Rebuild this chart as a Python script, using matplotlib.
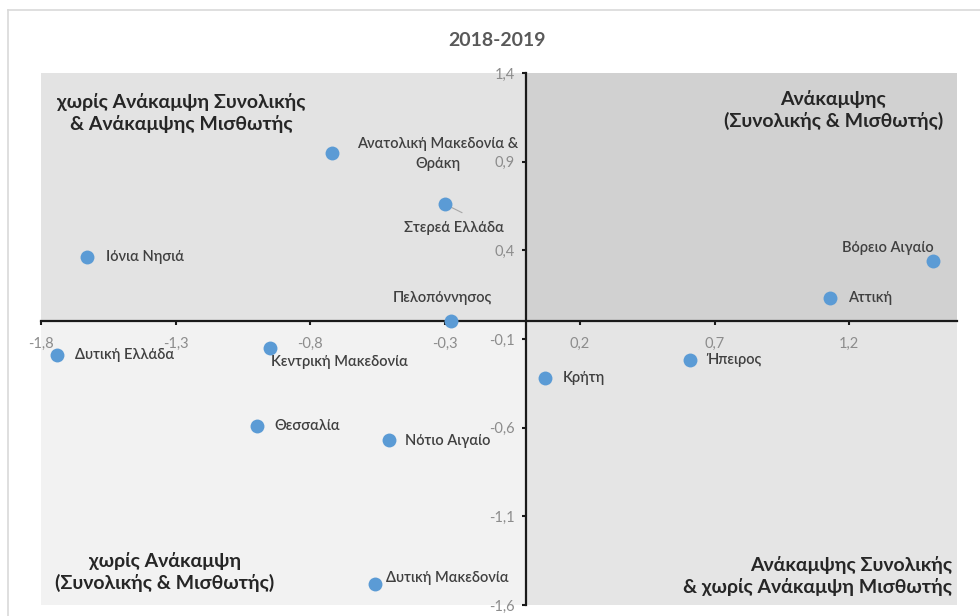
import matplotlib
matplotlib.use("Agg")
import matplotlib.pyplot as plt
from matplotlib.lines import Line2D
from matplotlib.ticker import FuncFormatter

plt.rcParams['font.family'] = ['Lato', 'Open Sans', 'DejaVu Sans']

# data
regions = ["Ανατολική Μακεδονία &\nΘράκη", "Στερεά Ελλάδα", "Ιόνια Νησιά", "Πελοπόννησος",
           "Βόρειο Αιγαίο", "Αττική", "Δυτική Ελλάδα", "Κεντρική Μακεδονία",
           "Κρήτη", "Ήπειρος", "Θεσσαλία", "Νότιο Αιγαίο", "Δυτική Μακεδονία"]
x_total = [-0.72, -0.30, -1.63, -0.28, 1.51, 1.13, -1.74, -0.95, 0.07, 0.61, -1.00, -0.51, -0.56]
y_wage = [0.95, 0.66, 0.36, 0.00, 0.34, 0.13, -0.19, -0.15, -0.32, -0.22, -0.59, -0.67, -1.48]
xticks = [-1.8, -1.3, -0.8, -0.3, 0.2, 0.7, 1.2]
yticks = [1.4, 0.9, 0.4, -0.1, -0.6, -1.1, -1.6]
x_lim = (-1.8, 1.6)
y_lim = (-1.6, 1.4)
title = "2018-2019"
quad_labels = {
    "tl": "χωρίς Ανάκαμψη Συνολικής\n& Ανάκαμψης Μισθωτής",
    "tr": "Ανάκαμψης\n(Συνολικής & Μισθωτής)",
    "bl": "χωρίς Ανάκαμψη\n(Συνολικής & Μισθωτής)",
    "br": "Ανάκαμψης Συνολικής\n& χωρίς Ανάκαμψη Μισθωτής",
}

# label offsets in points (dx, dy) and alignment, one per region
label_pos = [((76, -1), "center"), ((6, -17), "center"), ((14, 0), "left"), ((-6, 17), "center"),
             ((-32, 9), "center"), ((13, 0), "left"), ((13, 0), "left"), ((1, -10), "left"),
             ((13, 0), "left"), ((12, 0), "left"), ((13, 0), "left"), ((12, -1), "left"),
             ((8, 4), "left")]
line_step = 14.4  # pt between lines of a wrapped data label

fig = plt.figure(figsize=(9.8, 6.16), dpi=100)
ax = fig.add_axes([41 / 980, 1 - 605 / 616, 916 / 980, 532 / 616])

# outer frame of the chart
fig.add_artist(Line2D([8 / 980, 1], [1 - 10 / 616, 1 - 10 / 616], transform=fig.transFigure,
                      color="#d9d9d9", lw=1.2))
fig.add_artist(Line2D([8 / 980, 8 / 980], [0, 1 - 10 / 616], transform=fig.transFigure,
                      color="#d9d9d9", lw=1.2))

# quadrant shading
ax.fill_between([x_lim[0], 0], 0, y_lim[1], color="#e3e3e3", lw=0, zorder=0)
ax.fill_between([0, x_lim[1]], 0, y_lim[1], color="#d1d1d1", lw=0, zorder=0)
ax.fill_between([x_lim[0], 0], y_lim[0], 0, color="#f2f2f2", lw=0, zorder=0)
ax.fill_between([0, x_lim[1]], y_lim[0], 0, color="#e5e5e5", lw=0, zorder=0)

ax.set_xlim(*x_lim)
ax.set_ylim(*y_lim)
ax.spines["left"].set_position(("data", 0))
ax.spines["bottom"].set_position(("data", 0))
ax.spines["right"].set_visible(False)
ax.spines["top"].set_visible(False)
for s in ("left", "bottom"):
    ax.spines[s].set_linewidth(1.6)
    ax.spines[s].set_color("#1a1a1a")
    ax.spines[s].set_zorder(2)

comma = FuncFormatter(lambda v, p: f"{v:.1f}".replace(".", ","))
ax.set_xticks(xticks)
ax.set_yticks(yticks)
ax.xaxis.set_major_formatter(comma)
ax.yaxis.set_major_formatter(comma)
ax.tick_params(axis="x", direction="out", length=3, width=1.5, color="#1a1a1a",
               labelsize=10.5, labelcolor="#8c8c8c", pad=8)
ax.tick_params(axis="y", direction="out", length=3, width=1.5, color="#1a1a1a",
               labelsize=10.5, labelcolor="#8c8c8c", pad=5)

ax.scatter(x_total, y_wage, s=100, color="#5b9bd5", zorder=3, linewidths=0)

for name, xv, yv, (off, ha) in zip(regions, x_total, y_wage, label_pos):
    lines = name.split("\n")
    top = off[1] + (len(lines) - 1) / 2 * line_step
    for i, line in enumerate(lines):
        ax.annotate(line, (xv, yv), xytext=(off[0], top - i * line_step),
                    textcoords="offset points", ha=ha, va="center",
                    fontsize=10.5, fontweight="semibold", color="#404040", zorder=4)

# leader line for Στερεά Ελλάδα
ax.annotate("", (x_total[1], y_wage[1]), xytext=(14, -7), textcoords="offset points",
            arrowprops=dict(arrowstyle="-", color="#a6a6a6", lw=0.8), zorder=2.5)

qkw = dict(fontsize=14, fontweight="bold", color="#262626", transform=ax.transAxes,
           linespacing=1.25, zorder=4)
ax.text(0.153, 0.925, quad_labels["tl"], ha="center", va="center", **qkw)
ax.text(0.865, 0.93, quad_labels["tr"], ha="center", va="center", **qkw)
ax.text(0.135, 0.062, quad_labels["bl"], ha="center", va="center", **qkw)
ax.text(0.995, 0.054, quad_labels["br"], ha="right", va="center", **qkw)

fig.text(497 / 980, 1 - 40 / 616, title, ha="center", va="center", fontsize=14,
         fontweight="bold", color="#595959")

fig.savefig("out.png", dpi=100)
